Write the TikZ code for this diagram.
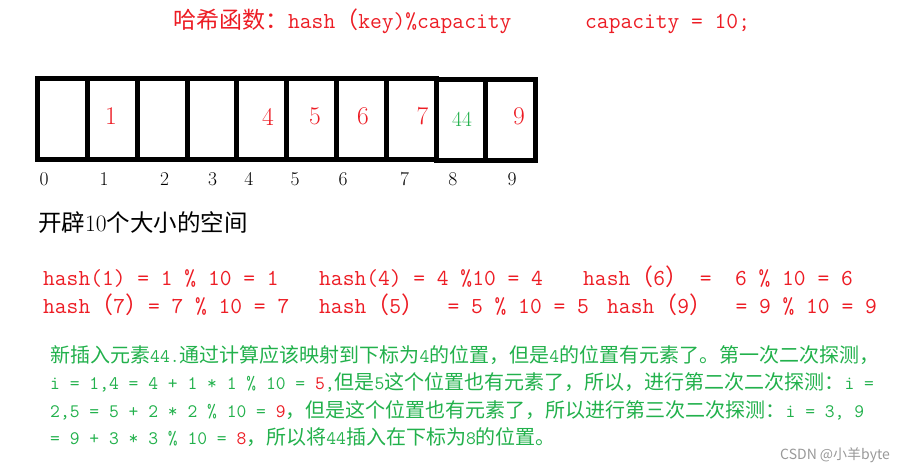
\documentclass[tikz,border=0pt]{standalone}
\usepackage{xcolor}
\usepackage{fontspec}
\usepackage{tikz}
\usetikzlibrary{positioning}

\newfontfamily\cjk{Noto Sans CJK SC}
\definecolor{hashred}{RGB}{237,28,36}
\definecolor{notegreen}{RGB}{34,177,76}
\newcommand{\rl}[1]{{\ttfamily\fontsize{22.86}{23}\selectfont #1}}
\newcommand{\gl}[1]{{\ttfamily\fontsize{19.05}{20}\selectfont #1}}

\begin{document}
\begin{tikzpicture}[
    x=1pt, y=-1pt,
    cell/.style={
        rectangle,
        draw=black,
        line width=5pt,
        minimum width=49.8pt,
        minimum height=81pt,
        inner sep=0pt
    },
    val/.style={text=#1, inner sep=0pt, font=\fontsize{25.5}{25.5}\selectfont},
    idx/.style={inner sep=0pt, font=\fontsize{19.5}{19.5}\selectfont},
    formula/.style={anchor=base west, inner sep=0pt, text=hashred, font=\cjk\fontsize{23}{23}\selectfont},
    note/.style={anchor=base west, inner sep=0pt, text=notegreen, font=\cjk\fontsize{20}{20}\selectfont}
]

% Canvas
\fill[white] (0,0) rectangle (915,472);
\useasboundingbox (0,0) rectangle (915,472);

% Title
\node[formula] (title) at (173,28) {哈希函数：\rl{hash}（\rl{key)\%capacity}};
\node[formula] (cap) at (585,28) {\rl{capacity = 10;}};

% Table cells
\foreach \i in {0,...,7}
    \node[cell] (c\i) at ({62.6+49.8*\i},118.5) {};
\foreach \i in {8,9}
    \node[cell] (c\i) at ({62.6+49.8*\i},120) {};

% Stored values
\node[val=hashred] (v1) at (111,116.5) {1};
\node[val=hashred] (v4) at (268,116.5) {4};
\node[val=hashred] (v5) at (315,116.5) {5};
\node[val=hashred] (v6) at (363,116.5) {6};
\node[val=hashred] (v7) at (422.5,116.5) {7};
\node[val=notegreen, font=\fontsize{21.5}{21.5}\selectfont] (v44) at (462,119) {44};
\node[val=hashred] (v9) at (519,116.5) {9};

% Indices
\foreach \i/\x in {0/44,1/104,2/164.5,3/212.6,4/248.8,5/295,6/343,7/404.6,8/452.8,9/512}
    \node[idx] (i\i) at (\x,178.8) {\i};

\node[anchor=base west, inner sep=0pt, font=\cjk\fontsize{23.5}{23.5}\selectfont] (alloc) at (38,231) {开辟{\rmfamily 10}个大小的空间};

% Hash values
\node[formula] (h1) at (43,285) {\rl{hash(1) = 1 \% 10 = 1}};
\node[formula] (h4) at (319,285) {\rl{hash(4) = 4 \%10 = 4}};
\node[formula] (h6) at (583,285) {\rl{hash}（\rl{6}）\rl{\ =\ \ 6 \% 10 = 6}};
\node[formula] (h7) at (43,313) {\rl{hash}（\rl{7}）\rl{= 7 \% 10 = 7}};
\node[formula] (h5) at (319,313) {\rl{hash}（\rl{5}）\rl{\ \ = 5 \% 10 = 5}};
\node[formula] (h9) at (607,313) {\rl{hash}（\rl{9}）\rl{\ \ = 9 \% 10 = 9}};

% Quadratic probing note
\node[note] (n1) at (50,362) {新插入元素\gl{44.}通过计算应该映射到下标为\gl{4}的位置，但是\gl{4}的位置有元素了。第一次二次探测，};
\node[note] (n2) at (50,389.5) {\gl{i = 1,4 = 4 + 1 * 1 \% 10 = }\textcolor{hashred}{\gl{5}}\gl{,}但是\gl{5}这个位置也有元素了，所以，进行第二次二次探测：\gl{i =}};
\node[note] (n3) at (50,417) {\gl{2,5 = 5 + 2 * 2 \% 10 = }\textcolor{hashred}{\gl{9}}，但是这个位置也有元素了，所以进行第三次二次探测：\gl{i = 3, 9}};
\node[note] (n4) at (50,444.5) {\gl{= 9 + 3 * 3 \% 10 = }\textcolor{hashred}{\gl{8}}，所以将\gl{44}插入在下标为\gl{8}的位置。};

% Watermark
\node[anchor=base west, inner sep=0pt, text=black!40, font=\cjk\fontsize{14}{14}\selectfont] (mark) at (780,459) {CSDN @小羊byte};

\end{tikzpicture}
\end{document}
